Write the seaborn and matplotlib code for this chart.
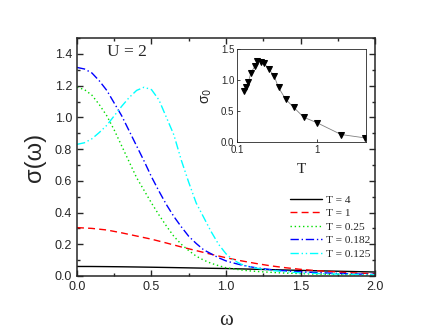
import matplotlib
matplotlib.use('Agg')
import matplotlib.pyplot as plt
import seaborn as sns
import numpy as np
from matplotlib.ticker import MultipleLocator

# frequency grid for the three low-T curves
omega_fine = [0.00, 0.05, 0.10, 0.15, 0.20, 0.25, 0.30, 0.35, 0.40, 0.45,
              0.50, 0.55, 0.60, 0.65, 0.70, 0.75, 0.80, 0.85, 0.90, 0.95,
              1.00, 1.05, 1.10, 1.15, 1.20, 1.3, 1.4, 1.5, 1.6, 1.7, 1.8, 1.9, 2.0]
sig_T0125 = [0.83, 0.84, 0.865, 0.905, 0.95, 1.01, 1.07, 1.125, 1.17, 1.19,
             1.175, 1.11, 1.00, 0.89, 0.73, 0.59, 0.46, 0.37, 0.28, 0.20,
             0.14, 0.10, 0.075, 0.06, 0.05, 0.035, 0.027, 0.02, 0.016, 0.013, 0.011, 0.009, 0.008]
sig_T0182 = [1.315, 1.305, 1.28, 1.23, 1.17, 1.09, 1.01, 0.915, 0.82, 0.725,
             0.625, 0.535, 0.45, 0.375, 0.31, 0.25, 0.205, 0.165, 0.14, 0.115,
             0.095, 0.082, 0.07, 0.06, 0.052, 0.04, 0.032, 0.026, 0.022, 0.018, 0.015, 0.012, 0.01]
sig_T025 = [1.19, 1.175, 1.14, 1.08, 1.01, 0.92, 0.82, 0.72, 0.62, 0.54,
            0.46, 0.385, 0.315, 0.25, 0.20, 0.16, 0.125, 0.10, 0.08, 0.065,
            0.052, 0.045, 0.038, 0.033, 0.029, 0.023, 0.018, 0.015, 0.012, 0.01, 0.009, 0.008, 0.007]

omega_coarse = [0.0, 0.1, 0.2, 0.3, 0.4, 0.5, 0.6, 0.7, 0.8, 0.9, 1.0,
                1.1, 1.2, 1.3, 1.4, 1.5, 1.6, 1.7, 1.8, 1.9, 2.0]
sig_T1 = [0.305, 0.30, 0.29, 0.272, 0.252, 0.232, 0.208, 0.183, 0.16, 0.137, 0.115,
          0.096, 0.079, 0.064, 0.052, 0.042, 0.034, 0.028, 0.022, 0.018, 0.014]
sig_T4 = [0.06, 0.0598, 0.059, 0.058, 0.0567, 0.0553, 0.0537, 0.052, 0.0503, 0.0485, 0.047,
          0.0447, 0.0423, 0.04, 0.0376, 0.0352, 0.033, 0.031, 0.029, 0.027, 0.025]

# inset: sigma_0 vs T
T_inset = [0.123, 0.129, 0.139, 0.149, 0.167, 0.180, 0.198, 0.218, 0.249, 0.29,
           0.33, 0.405, 0.51, 0.68, 1.0, 2.0, 4.0]
sigma0 = [0.825, 0.88, 0.97, 1.12, 1.22, 1.31, 1.29, 1.27, 1.18, 1.07,
          0.88, 0.69, 0.56, 0.40, 0.31, 0.12, 0.065]

sns.set_style('ticks')
plt.rcParams['font.family'] = ['Liberation Sans', 'DejaVu Sans']
serif = ['Liberation Serif', 'DejaVu Serif']

fig = plt.figure(figsize=(4.36, 3.34), dpi=100)
ax = fig.add_axes([0.1766, 0.1737, 0.6835, 0.7123])

curves = [
    (omega_coarse, sig_T4, 'T = 4', 'black', '-'),
    (omega_coarse, sig_T1, 'T = 1', 'red', (0, (5, 3))),
    (omega_fine, sig_T025, 'T = 0.25', '#00dd00', (0, (1, 2))),
    (omega_fine, sig_T0182, 'T = 0.182', 'blue', (0, (6, 2, 1, 2))),
    (omega_fine, sig_T0125, 'T = 0.125', 'cyan', (0, (6, 2, 1, 2, 1, 2))),
]
for x, y, lab, col, ls in curves:
    sns.lineplot(x=x, y=y, ax=ax, color=col, linestyle=ls, lw=1.0, label=lab)

ax.set_xlim(0, 2)
ax.set_ylim(0, 1.5)
ax.xaxis.set_major_locator(MultipleLocator(0.5))
ax.xaxis.set_minor_locator(MultipleLocator(0.25))
ax.yaxis.set_major_locator(MultipleLocator(0.2))
ax.yaxis.set_minor_locator(MultipleLocator(0.1))
ax.tick_params(which='both', direction='in', top=True, right=True, labelsize=9, width=1)
ax.tick_params(which='major', length=4)
ax.tick_params(which='minor', length=2)
for s in ax.spines.values():
    s.set_linewidth(1.1)
ax.set_xlabel('ω', family=serif, fontsize=15, labelpad=13)
ax.set_ylabel('σ(ω)', fontsize=17, labelpad=6)
ax.text(0.2, 1.39, 'U = 2', family=serif, fontsize=12.5)

leg = ax.legend(loc='lower right', bbox_to_anchor=(1.02, 0.03), frameon=False,
                prop={'family': serif, 'size': 8.2}, handlelength=2.8,
                handletextpad=0.35, labelspacing=0.3)

# inset
axi = fig.add_axes([0.5436, 0.575, 0.296, 0.278])
sns.lineplot(x=T_inset, y=sigma0, ax=axi, color='gray', lw=0.6,
             marker='v', markersize=4, markerfacecolor='black',
             markeredgecolor='black')
axi.set_xscale('log')
axi.set_xlim(0.1, 4.1)
axi.set_ylim(0, 1.5)
axi.set_yticks([0.0, 0.5, 1.0, 1.5])
axi.set_xticks([0.1, 1])
axi.set_xticklabels(['0.1', '1'])
axi.xaxis.set_minor_locator(matplotlib.ticker.NullLocator())
axi.tick_params(which='both', direction='in', labelsize=7, length=2.5, width=0.6, pad=2)
for s in axi.spines.values():
    s.set_linewidth(0.6)
axi.set_xlabel('T', family=serif, fontsize=11, labelpad=6)
axi.set_ylabel('σ$_0$', fontsize=10, labelpad=5)

fig.savefig('out.png', dpi=100)
